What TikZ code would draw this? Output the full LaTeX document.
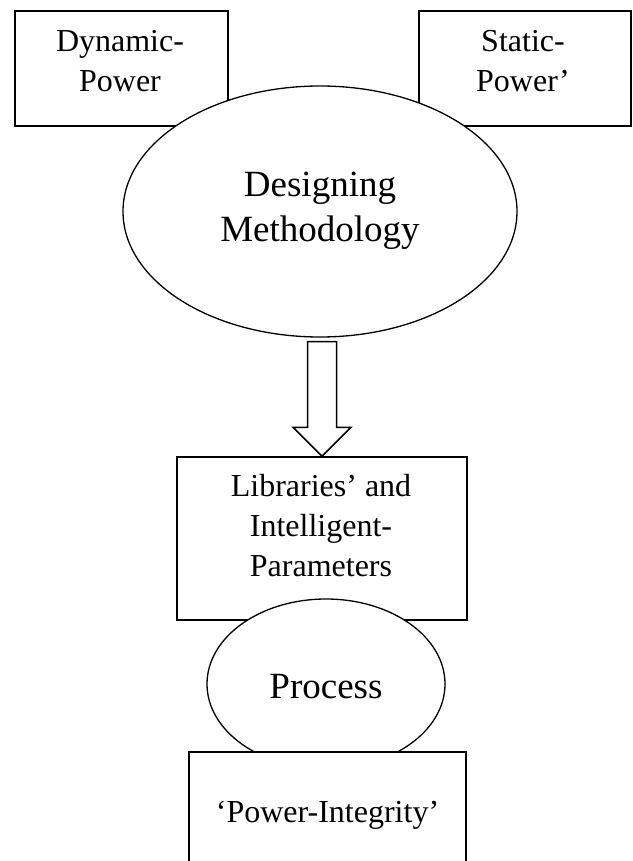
\documentclass[tikz,border=0pt]{standalone}
\usepackage{fontspec}
\setmainfont{Liberation Serif}
\usetikzlibrary{shapes.geometric,calc}
\tikzset{
  box/.style={draw, line width=1.5pt, fill=white, rectangle, inner sep=0pt},
  oval/.style={draw, line width=1.3pt, fill=white, ellipse, inner sep=0pt},
  smalltext/.style={font=\fontsize{32}{40}\selectfont, align=center, inner sep=0pt},
  bigtext/.style={font=\fontsize{37}{45}\selectfont, align=center, inner sep=0pt},
  blockarrow/.style={draw, line width=1.5pt, fill=white, line join=miter}
}
\begin{document}
\begin{tikzpicture}[x=1pt,y=-1pt]
\useasboundingbox (0,0) rectangle (632,861);
\clip (0,0) rectangle (632,861);
% top boxes
\node[box, minimum width=213pt, minimum height=115pt] (dyn) at (121.5,68.5) {};
\node[box, minimum width=212pt, minimum height=115pt] (stat) at (525,68.5) {};
% main ellipse
\node[oval, minimum width=394pt, minimum height=251pt] (des) at (320,211.5) {};
% libraries box
\node[box, minimum width=290pt, minimum height=163pt] (lib) at (322,538.5) {};
% block arrow
\coordinate (atop) at ($(des.south)+(0,4)$);
\coordinate (atip) at (lib.north);
\draw[blockarrow] (atip |- atop) ++(-14.5,0) coordinate (a1)
  -- ++(29,0) coordinate (a2)
  -- ($(atip)+(14.5,-29)$) -- ($(atip)+(29,-29)$) -- (atip)
  -- ($(atip)+(-29,-29)$) -- ($(atip)+(-14.5,-29)$) -- cycle;
% process ellipse
\node[oval, minimum width=238pt, minimum height=170pt] (proc) at (326,684) {};
% power integrity box
\node[box, minimum width=277pt, minimum height=128pt] (pi) at (327.5,816) {};
% texts
\node[smalltext] (dynT) at (120,61) {Dynamic-\\Power};
\node[smalltext] (statT) at (523,61) {Static-\\Power’};
\node[bigtext] (desT) at (320,211) {Designing\\Methodology};
\node[smalltext] (libT) at (321,526) {Libraries’ and\\Intelligent-\\Parameters};
\node[bigtext, anchor=base] (procT) at (326,698) {Process};
\node[smalltext, anchor=base] (piT) at (327.5,822) {‘Power-Integrity’};
\end{tikzpicture}
\end{document}
